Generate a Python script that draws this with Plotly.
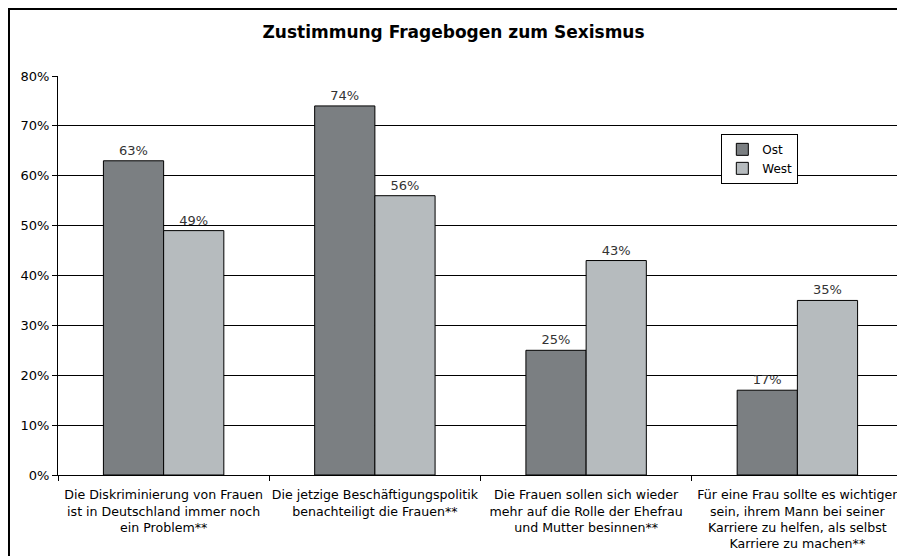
import plotly.graph_objects as go

categories = [
    "Die Diskriminierung von Frauen<br>ist in Deutschland immer noch<br>ein Problem**",
    "Die jetzige Beschäftigungspolitik<br>benachteiligt die Frauen**",
    "Die Frauen sollen sich wieder<br>mehr auf die Rolle der Ehefrau<br>und Mutter besinnen**",
    "Für eine Frau sollte es wichtiger<br>sein, ihrem Mann bei seiner<br>Karriere zu helfen, als selbst<br>Karriere zu machen**",
]
ost = [63, 74, 25, 17]
west = [49, 56, 43, 35]
y_ticks = [0, 10, 20, 30, 40, 50, 60, 70, 80]
y_tick_labels = [f"{v}%" for v in y_ticks]

FONT = "DejaVu Sans"
FS = 13
FS_X = 12.6

fig = go.Figure()
fig.add_trace(go.Bar(
    name="Ost", x=categories, y=ost,
    marker=dict(color="#7b7f82", line=dict(color="#000000", width=1)),
    text=[f"{v}%" for v in ost], textposition="outside",
    textfont=dict(family=FONT, size=FS, color="#333333"),
    cliponaxis=False,
))
fig.add_trace(go.Bar(
    name="West", x=categories, y=west,
    marker=dict(color="#b6bbbe", line=dict(color="#000000", width=1)),
    text=[f"{v}%" for v in west], textposition="outside",
    textfont=dict(family=FONT, size=FS, color="#333333"),
    cliponaxis=False,
))

fig.update_layout(
    width=897, height=548,
    margin=dict(l=50, r=2, t=68, b=81, autoexpand=False),
    paper_bgcolor="white", plot_bgcolor="white",
    font=dict(family=FONT, size=FS, color="#000000"),
    barmode="group", bargap=0.43, bargroupgap=0,
    title=dict(text="<b>Zustimmung Fragebogen zum Sexismus</b>",
               x=0.4967, xref="container", xanchor="center",
               y=0.956, yanchor="middle",
               font=dict(family=FONT, size=17, color="#000000")),
    legend=dict(x=0.785, y=0.855, xanchor="left", yanchor="top",
                bordercolor="#000000", borderwidth=1, bgcolor="white",
                font=dict(family=FONT, size=12, color="#000000"),
                itemwidth=30, tracegroupgap=0),
    xaxis=dict(showline=True, linecolor="#000000", linewidth=1,
               ticks="outside", tickson="boundaries", ticklen=5, tickcolor="#000000",
               tickangle=0, ticklabelstandoff=8,
               tickfont=dict(family=FONT, size=FS_X, color="#000000"),
               showgrid=False, automargin=False),
    yaxis=dict(range=[0, 80], tickvals=y_ticks, ticktext=y_tick_labels,
               showline=True, linecolor="#000000", linewidth=1,
               ticks="outside", ticklen=5, tickcolor="#000000",
               showgrid=True, gridcolor="#000000", gridwidth=1,
               zeroline=False, automargin=False,
               tickfont=dict(family=FONT, size=FS, color="#000000")),
    shapes=[dict(type="rect", xref="paper", yref="paper",
                 x0=-0.058, x1=0.9995, y0=-0.3, y1=1.168,
                 line=dict(color="#000000", width=2), fillcolor="rgba(0,0,0,0)",
                 layer="above")],
)

fig.write_html("out.html")
